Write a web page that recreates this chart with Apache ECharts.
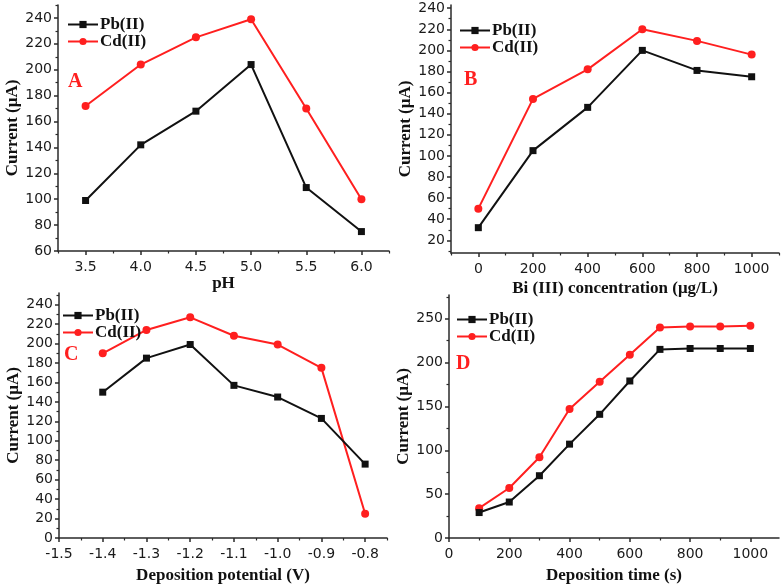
<!DOCTYPE html>
<html><head><meta charset="utf-8">
<script src="https://cdn.jsdelivr.net/npm/echarts@6/dist/echarts.min.js"></script>
<style>html,body{margin:0;padding:0;background:#fff}#c{width:784px;height:587px}</style>
</head><body><div id="c"></div>
<script>
// ---- data ----
const pH = [3.5, 4.0, 4.5, 5.0, 5.5, 6.0];
const pbA = [99, 142, 168, 204, 109, 75];
const cdA = [172, 204, 225, 239, 170, 100];

const biConc = [0, 200, 400, 600, 800, 1000];
const pbB = [32, 105, 146, 200, 181, 175];
const cdB = [50, 154, 182, 220, 209, 196];

const potential = [-1.4, -1.3, -1.2, -1.1, -1.0, -0.9, -0.8];
const pbC = [150, 185, 199, 157, 145, 123, 76];
const cdC = [190, 214, 227, 208, 199, 175, 25];

const depTime = [100, 200, 300, 400, 500, 600, 700, 800, 900, 1000];
const pbD = [29, 41, 71, 107, 141, 179, 215, 216, 216, 216];
const cdD = [34, 57, 92, 147, 178, 209, 240, 241, 241, 242];

// ---- tick labels ----
const xTicksA = [3.5, 4.0, 4.5, 5.0, 5.5, 6.0];
const xMinorA = [3.25, 3.75, 4.25, 4.75, 5.25, 5.75, 6.25];
const yTicksA = [60, 80, 100, 120, 140, 160, 180, 200, 220, 240];
const yMinorA = [70, 90, 110, 130, 150, 170, 190, 210, 230, 250];

const xTicksB = [0, 200, 400, 600, 800, 1000];
const xMinorB = [-100, 100, 300, 500, 700, 900, 1100];
const yTicksB = [20, 40, 60, 80, 100, 120, 140, 160, 180, 200, 220, 240];
const yMinorB = [10, 30, 50, 70, 90, 110, 130, 150, 170, 190, 210, 230];

const xTicksC = [-1.5, -1.4, -1.3, -1.2, -1.1, -1.0, -0.9, -0.8];
const xMinorC = [-1.45, -1.35, -1.25, -1.15, -1.05, -0.95, -0.85, -0.75];
const yTicksC = [0, 20, 40, 60, 80, 100, 120, 140, 160, 180, 200, 220, 240];
const yMinorC = [10, 30, 50, 70, 90, 110, 130, 150, 170, 190, 210, 230, 250];

const xTicksD = [0, 200, 400, 600, 800, 1000];
const xMinorD = [100, 300, 500, 700, 900];
const yTicksD = [0, 50, 100, 150, 200, 250];
const yMinorD = [25, 75, 125, 175, 225, 275];

const seriesNames = ['Pb(II)', 'Cd(II)'];
const panelLetters = ['A', 'B', 'C', 'D'];

// ---- styles ----
const AX = '#2a2a2a';
const RED = '#ff1f1f';
const BLK = '#111111';
const tickFont = {fontFamily: 'DejaVu Sans', fontSize: 14, color: '#1a1a1a'};
const nameFont = {fontFamily: 'Liberation Serif', fontWeight: 'bold', fontSize: 17, color: '#111'};

const grids = [
  {left: 58, top: 5, width: 331, height: 246},
  {left: 451, top: 5, width: 328, height: 248},
  {left: 59, top: 293, width: 328, height: 245},
  {left: 449, top: 295, width: 330, height: 243}
];

function majorX(g, min, max, ticks, name, gap, fmt) {
  return {type: 'value', gridIndex: g, min, max, position: 'bottom', name, nameLocation: 'middle', nameGap: gap,
    nameTextStyle: nameFont, splitLine: {show: false},
    axisLine: {onZero: false, lineStyle: {color: AX, width: 1.5}},
    axisTick: {customValues: ticks, length: 4, inside: false, lineStyle: {color: AX, width: 1.5}},
    axisLabel: {customValues: ticks, margin: 9, formatter: fmt, ...tickFont}};
}
function minorX(g, min, max, ticks) {
  return {type: 'value', gridIndex: g, min, max, position: 'bottom', splitLine: {show: false},
    axisLine: {show: false, onZero: false},
    axisTick: {customValues: ticks, length: 2.5, lineStyle: {color: AX, width: 1.2}},
    axisLabel: {show: false}};
}
function majorY(g, min, max, ticks, name, gap) {
  return {type: 'value', gridIndex: g, min, max, position: 'left', name, nameLocation: 'middle', nameGap: gap,
    nameRotate: 90, nameTextStyle: nameFont, splitLine: {show: false},
    axisLine: {show: true, onZero: false, lineStyle: {color: AX, width: 1.5}},
    axisTick: {show: true, customValues: ticks, length: 4, lineStyle: {color: AX, width: 1.5}},
    axisLabel: {customValues: ticks, margin: 6, ...tickFont}};
}
function minorY(g, min, max, ticks) {
  return {type: 'value', gridIndex: g, min, max, position: 'left', splitLine: {show: false},
    axisLine: {show: false, onZero: false},
    axisTick: {show: true, customValues: ticks, length: 2.5, lineStyle: {color: AX, width: 1.2}},
    axisLabel: {show: false}};
}
const f1 = v => v.toFixed(1);
const f0 = v => String(v);

const xAxis = [
  majorX(0, 3.25, 6.25, xTicksA, 'pH', 19, f1),
  majorX(1, -100, 1100, xTicksB, 'Bi (III) concentration (μg/L)', 27, f0),
  majorX(2, -1.5, -0.75, xTicksC, 'Deposition potential (V)', 29, f1),
  majorX(3, 0, 1095, xTicksD, 'Deposition time (s)', 29, f0),
  minorX(0, 3.25, 6.25, xMinorA),
  minorX(1, -100, 1100, xMinorB),
  minorX(2, -1.5, -0.75, xMinorC),
  minorX(3, 0, 1095, xMinorD)
];
const yAxis = [
  majorY(0, 60, 250, yTicksA, 'Current (μA)', 37),
  majorY(1, 8, 243, yTicksB, 'Current (μA)', 37),
  majorY(2, 0, 252, yTicksC, 'Current (μA)', 37),
  majorY(3, 0, 277, yTicksD, 'Current (μA)', 37),
  minorY(0, 60, 250, yMinorA),
  minorY(1, 8, 243, yMinorB),
  minorY(2, 0, 252, yMinorC),
  minorY(3, 0, 277, yMinorD)
];

function pairs(xs, ys) { return xs.map((x, i) => [x, ys[i]]); }
function mk(name, g, xs, ys, isPb) {
  return {type: 'line', name, xAxisIndex: g, yAxisIndex: g, data: pairs(xs, ys),
    symbol: isPb ? 'rect' : 'circle', symbolSize: isPb ? 7 : 8,
    lineStyle: {color: isPb ? BLK : RED, width: 2},
    itemStyle: {color: isPb ? BLK : RED}, z: isPb ? 3 : 2, animation: false};
}
const series = [
  mk(seriesNames[0], 0, pH, pbA, true), mk(seriesNames[1], 0, pH, cdA, false),
  mk(seriesNames[0], 1, biConc, pbB, true), mk(seriesNames[1], 1, biConc, cdB, false),
  mk(seriesNames[0], 2, potential, pbC, true), mk(seriesNames[1], 2, potential, cdC, false),
  mk(seriesNames[0], 3, depTime, pbD, true), mk(seriesNames[1], 3, depTime, cdD, false)
];

function lg(left, top) {
  return {left, top, orient: 'vertical', itemWidth: 30, itemHeight: 9, itemGap: 0,
    data: seriesNames, selectedMode: false,
    textStyle: {fontFamily: 'Liberation Serif', fontWeight: 'bold', fontSize: 17, color: '#111', padding: [0, 0, 0, -3]}};
}
const legend = [lg(62, 11), lg(454, 17), lg(57, 302), lg(451, 306)];

const letterPos = [[68, 72], [464, 70], [64, 345], [456, 354]];
const graphic = panelLetters.map((t, i) => ({type: 'text', left: letterPos[i][0], top: letterPos[i][1],
  style: {text: t, fill: RED, font: 'bold 20px "Liberation Serif"'}}));

const chart = echarts.init(document.getElementById('c'), null, {renderer: 'canvas'});
chart.setOption({backgroundColor: '#fff', animation: false, grid: grids, xAxis, yAxis, series, legend, graphic});
</script></body></html>
